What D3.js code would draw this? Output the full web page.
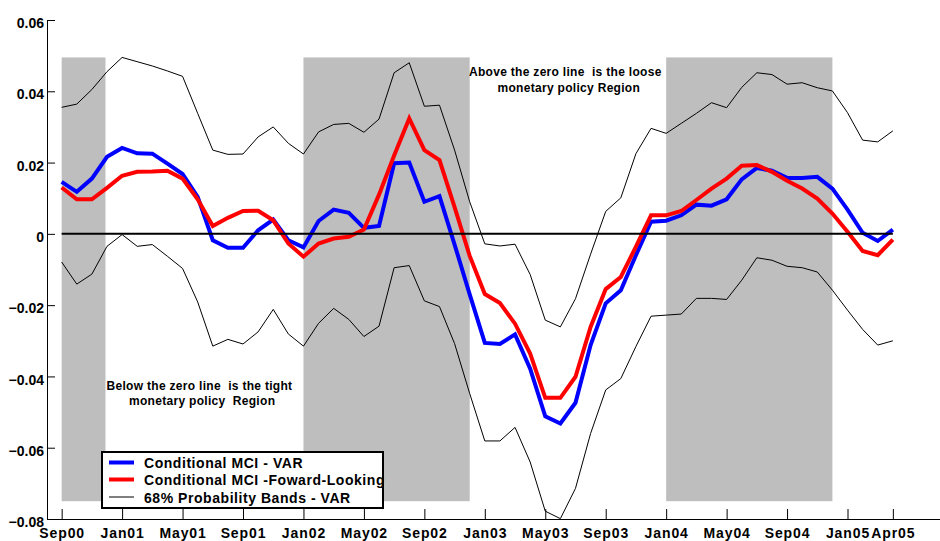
<!DOCTYPE html>
<html>
<head>
<meta charset="utf-8">
<script src="https://cdn.jsdelivr.net/npm/d3@7"></script>
<style>
  html, body { margin: 0; padding: 0; background: #fff; }
  svg { display: block; font-family: "Liberation Sans", Arial, Helvetica, sans-serif; font-weight: bold; }
  text { white-space: pre; }
</style>
</head>
<body>
<svg id="chart" width="940" height="541"></svg>
<script>
// Month index 0 = Sep00 ... 55 = Apr05
const tickIndex = [0, 4, 8, 12, 16, 20, 24, 28, 32, 36, 40, 44, 48, 52, 55];
const tickLabels = ["Sep00","Jan01","May01","Sep01","Jan02","May02","Sep02","Jan03","May03","Sep03","Jan04","May04","Sep04","Jan05","Apr05"];
const yTicks = [-0.08, -0.06, -0.04, -0.02, 0, 0.02, 0.04, 0.06];

const mciVAR = [0.0146,0.0118,0.0155,0.0216,0.0241,0.0226,0.0225,0.0197,0.0168,0.0104,
  -0.0018,-0.0039,-0.0039,0.0010,0.0040,-0.0018,-0.0038,0.0036,0.0068,0.0059,
  0.0017,0.0022,0.0198,0.0200,0.0090,0.0106,-0.0030,-0.0170,-0.0306,-0.0309,
  -0.0282,-0.0378,-0.0512,-0.0532,-0.0474,-0.0312,-0.0195,-0.0158,-0.0060,0.0034,
  0.0037,0.0052,0.0082,0.0079,0.0097,0.0153,0.0185,0.0177,0.0157,0.0157,
  0.0160,0.0127,0.0068,0.0003,-0.0020,0.0012];

const mciFwd = [0.0130,0.0097,0.0097,0.0129,0.0163,0.0174,0.0175,0.0177,0.0155,0.0097,
  0.0022,0.0045,0.0064,0.0065,0.0038,-0.0027,-0.0064,-0.0027,-0.0013,-0.0008,
  0.0012,0.0110,0.0220,0.0324,0.0235,0.0207,0.0075,-0.0062,-0.0169,-0.0194,
  -0.0252,-0.0336,-0.0460,-0.0460,-0.0401,-0.0261,-0.0155,-0.0121,-0.0036,0.0052,
  0.0052,0.0064,0.0095,0.0127,0.0155,0.0191,0.0193,0.0174,0.0149,0.0127,
  0.0099,0.0057,0.0006,-0.0048,-0.0060,-0.0016];

const bandUpper = [0.0355,0.0364,0.0405,0.0455,0.0495,0.0483,0.0471,0.0457,0.0442,0.0338,
  0.0235,0.0223,0.0224,0.0272,0.0300,0.0254,0.0224,0.0286,0.0307,0.0310,
  0.0285,0.0322,0.0452,0.0480,0.0358,0.0361,0.0235,0.0090,-0.0028,-0.0034,
  -0.0029,-0.0114,-0.0242,-0.0261,-0.0182,-0.0057,0.0063,0.0101,0.0225,0.0296,
  0.0282,0.0310,0.0338,0.0368,0.0354,0.0411,0.0452,0.0447,0.0420,0.0424,
  0.0410,0.0401,0.0340,0.0263,0.0258,0.0289];

const bandLower = [-0.0079,-0.0141,-0.0113,-0.0035,-0.0002,-0.0035,-0.0030,-0.0063,-0.0097,-0.0191,
  -0.0315,-0.0296,-0.0309,-0.0275,-0.0212,-0.0281,-0.0315,-0.0251,-0.0209,-0.0240,
  -0.0288,-0.0259,-0.0095,-0.0089,-0.0188,-0.0204,-0.0308,-0.0448,-0.0581,-0.0581,
  -0.0543,-0.0640,-0.0778,-0.0799,-0.0714,-0.0560,-0.0438,-0.0406,-0.0316,-0.0231,
  -0.0228,-0.0225,-0.0181,-0.0181,-0.0184,-0.0130,-0.0067,-0.0074,-0.0091,-0.0095,
  -0.0107,-0.0158,-0.0214,-0.0268,-0.0312,-0.0300];

// shaded periods (month index start, end)
const shadeStart = [0, 16, 40];
const shadeEnd = [2.9, 27, 51];
const shadeTop = 0.0495, shadeBottom = -0.075;

const legendLabels = ["Conditional MCI - VAR", "Conditional MCI -Foward-Looking", "68% Probability Bands - VAR"];
const noteAbove = ["Above the zero line  is the loose", "monetary policy Region"];
const noteBelow = ["Below the zero line  is the tight", "monetary policy  Region"];

const svg = d3.select("#chart");
const x = d3.scaleLinear().domain([-0.97, 58.12]).range([47, 940]);
const y = d3.scaleLinear().domain([-0.08, 0.06]).range([519, 20]);

// shading
svg.append("g").selectAll("rect").data(shadeStart).join("rect")
  .attr("x", (d) => x(d))
  .attr("width", (d, i) => x(shadeEnd[i]) - x(d))
  .attr("y", y(shadeTop))
  .attr("height", y(shadeBottom) - y(shadeTop))
  .attr("fill", "#bebebe");

const line = d3.line().x((d, i) => x(i)).y(d => y(d));

svg.append("path").datum(bandUpper).attr("d", line).attr("fill", "none").attr("stroke", "#000").attr("stroke-width", 1);
svg.append("path").datum(bandLower).attr("d", line).attr("fill", "none").attr("stroke", "#000").attr("stroke-width", 1);
svg.append("path").datum(mciVAR).attr("d", line).attr("fill", "none").attr("stroke", "#0000ff").attr("stroke-width", 4);
svg.append("path").datum(mciFwd).attr("d", line).attr("fill", "none").attr("stroke", "#ff0000").attr("stroke-width", 4);

// zero line
svg.append("line").attr("x1", x(0)).attr("x2", x(55)).attr("y1", y(0)).attr("y2", y(0))
  .attr("stroke", "#000").attr("stroke-width", 2);

// axes
const yAxis = d3.axisLeft(y).tickValues(yTicks).tickSizeInner(-8).tickSizeOuter(0).tickPadding(3)
  .tickFormat(d => d === 0 ? "0" : d3.format(".2f")(d));
const gy = svg.append("g").attr("transform", "translate(47,0)").call(yAxis);
gy.selectAll("text").attr("font-size", 14).attr("font-weight", "bold").attr("fill", "#000")
  .attr("font-family", "Liberation Sans, Arial, sans-serif").attr("dy", "0.55em");
gy.selectAll("line, path").attr("stroke", "#000");

const xAxis = d3.axisBottom(x).tickValues(tickIndex).tickSizeInner(-10).tickSizeOuter(0).tickPadding(9)
  .tickFormat((d, i) => tickLabels[i]);
const gx = svg.append("g").attr("transform", "translate(0,519)").call(xAxis);
gx.selectAll("text").attr("font-size", 14).attr("font-weight", "bold").attr("fill", "#000")
  .attr("font-family", "Liberation Sans, Arial, sans-serif").attr("letter-spacing", "0.9px");
gx.selectAll("line, path").attr("stroke", "#000");

// annotations
const ann = svg.append("g").attr("font-size", 12).attr("letter-spacing", "0.3px").attr("fill", "#000");
ann.append("text").attr("x", 469).attr("y", 76).text(noteAbove[0]);
ann.append("text").attr("x", 497.5).attr("y", 91.5).text(noteAbove[1]);
ann.append("text").attr("x", 106.5).attr("y", 390).text(noteBelow[0]);
ann.append("text").attr("x", 129).attr("y", 405).text(noteBelow[1]);

// legend
const lg = svg.append("g");
lg.append("rect").attr("x", 102).attr("y", 452).attr("width", 281).attr("height", 56)
  .attr("fill", "#fff").attr("stroke", "#000").attr("stroke-width", 2);
const legColors = ["#0000ff", "#ff0000", "#000"];
const legWidths = [4, 4, 1];
const legY = [462.5, 479.5, 497];
lg.selectAll("line.leg").data(legendLabels).join("line").attr("class", "leg")
  .attr("x1", 109).attr("x2", 134)
  .attr("y1", (d, i) => legY[i]).attr("y2", (d, i) => legY[i])
  .attr("stroke", (d, i) => legColors[i]).attr("stroke-width", (d, i) => legWidths[i]);
lg.selectAll("text").data(legendLabels).join("text")
  .attr("x", 144).attr("y", (d, i) => legY[i] + 5.5)
  .attr("font-size", 14).attr("letter-spacing", "0.55px").attr("fill", "#000")
  .text(d => d);
</script>
</body>
</html>
